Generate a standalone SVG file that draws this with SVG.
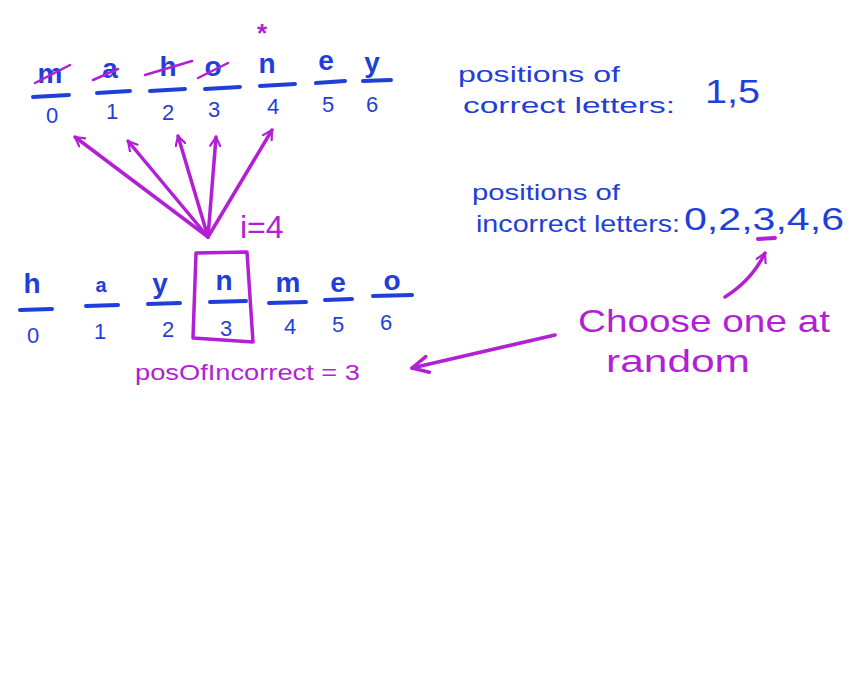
<svg xmlns="http://www.w3.org/2000/svg" width="860" height="675" viewBox="0 0 860 675">
<defs>
<style>
.b{fill:#1f3fd8;font-family:"Liberation Sans",Arial,sans-serif}
.p{fill:#b21fd4;font-family:"Liberation Sans",Arial,sans-serif}
.ub{stroke:#1f3fd8;stroke-width:4;stroke-linecap:round;fill:none}
.up{stroke:#b21fd4;stroke-width:3.5;stroke-linecap:round;stroke-linejoin:round;fill:none}
.L{font-size:28px;text-anchor:middle;font-weight:bold}
.D{font-size:22px;text-anchor:middle}
</style>
<marker id="ah" viewBox="0 0 12 12" refX="10" refY="6" markerWidth="12" markerHeight="12" markerUnits="userSpaceOnUse" orient="auto">
<path d="M1,1 L10,6 L1,11" fill="none" stroke="#b21fd4" stroke-width="2.2" stroke-linecap="round" stroke-linejoin="round"/>
</marker>
<marker id="ah2" viewBox="0 0 20 20" refX="18" refY="10" markerWidth="20" markerHeight="20" markerUnits="userSpaceOnUse" orient="auto">
<path d="M2,2 L18,10 L2,18" fill="none" stroke="#b21fd4" stroke-width="3.5" stroke-linecap="round" stroke-linejoin="round"/>
</marker>
</defs>
<rect width="860" height="675" fill="#ffffff"/>

<g id="top-word">
<text class="b L" x="50" y="83">m</text>
<text class="b L" x="110" y="78">a</text>
<text class="b L" x="168" y="76">h</text>
<text class="b L" x="213" y="76">o</text>
<text class="b L" x="267" y="73">n</text>
<text class="b L" x="326" y="70">e</text>
<text class="b L" x="372" y="72">y</text>
<path class="ub" d="M33,97 L69,95 M97,93 L130,91 M150,91 L185,89 M205,89 L240,87 M260,86 L295,84 M316,83 L345,81 M363,81 L391,80"/>
<text class="b D" x="52" y="123">0</text>
<text class="b D" x="112" y="119">1</text>
<text class="b D" x="168" y="120">2</text>
<text class="b D" x="214" y="117">3</text>
<text class="b D" x="273" y="114">4</text>
<text class="b D" x="328" y="112">5</text>
<text class="b D" x="372" y="112">6</text>
<path class="up" style="stroke-width:2.5" d="M35,83 L70,65 M93,80 L118,69 M145,75 L192,61 M198,78 L228,63"/>
<text class="p" x="262" y="42" font-size="26" font-weight="bold" text-anchor="middle">*</text>
</g>

<g id="bottom-word">
<text class="b L" x="32" y="293">h</text>
<text class="b L" x="101" y="292" style="font-size:20px">a</text>
<text class="b L" x="160" y="293">y</text>
<text class="b L" x="224" y="290">n</text>
<text class="b L" x="288" y="292">m</text>
<text class="b L" x="338" y="292">e</text>
<text class="b L" x="392" y="290">o</text>
<path class="ub" d="M20,310 L52,309 M86,306 L118,305 M148,304 L180,303 M210,302 L246,301 M269,303 L306,302 M325,300 L352,299 M373,296 L412,295"/>
<text class="b D" x="33" y="343">0</text>
<text class="b D" x="100" y="339">1</text>
<text class="b D" x="168" y="337">2</text>
<text class="b D" x="226" y="336">3</text>
<text class="b D" x="290" y="334">4</text>
<text class="b D" x="338" y="332">5</text>
<text class="b D" x="386" y="330">6</text>
</g>

<g id="current-box">
<path class="up" d="M196,253 L247,252 L253,342 L193,338 Z"/>
<text class="p" x="240" y="238" font-size="32">i=4</text>
</g>

<g id="pos-label">
<text class="p" x="135" y="380" font-size="22" textLength="225" lengthAdjust="spacingAndGlyphs">posOfIncorrect = 3</text>
</g>

<g id="correct-list">
<text class="b" x="458" y="82" font-size="22" textLength="162" lengthAdjust="spacingAndGlyphs">positions of</text>
<text class="b" x="463" y="113" font-size="22" textLength="212" lengthAdjust="spacingAndGlyphs">correct letters:</text>
<text class="b" x="705" y="103" font-size="34" textLength="55" lengthAdjust="spacingAndGlyphs">1,5</text>
</g>

<g id="incorrect-list">
<text class="b" x="472" y="200" font-size="22" textLength="148" lengthAdjust="spacingAndGlyphs">positions of</text>
<text class="b" x="476" y="232" font-size="24" textLength="204" lengthAdjust="spacingAndGlyphs">incorrect letters:</text>
<text class="b" x="684" y="230" font-size="32" textLength="160" lengthAdjust="spacingAndGlyphs">0,2,3,4,6</text>
<path class="up" style="stroke-width:4" d="M758,239 L775,238"/>
</g>

<g id="choose-note">
<text class="p" x="578" y="332" font-size="32" textLength="252" lengthAdjust="spacingAndGlyphs">Choose one at</text>
<text class="p" x="606" y="372" font-size="32" textLength="144" lengthAdjust="spacingAndGlyphs">random</text>
</g>

<g id="connectors">
<path class="up" marker-end="url(#ah)" d="M208,237 L75,137"/>
<path class="up" marker-end="url(#ah)" d="M208,237 L128,141"/>
<path class="up" marker-end="url(#ah)" d="M208,237 L178,136"/>
<path class="up" marker-end="url(#ah)" d="M208,237 L216,137"/>
<path class="up" marker-end="url(#ah)" d="M208,237 L272,130"/>
<path class="up" marker-end="url(#ah2)" d="M555,335 L412,368"/>
<path class="up" marker-end="url(#ah)" d="M725,297 Q752,280 765,253"/>
</g>
</svg>
